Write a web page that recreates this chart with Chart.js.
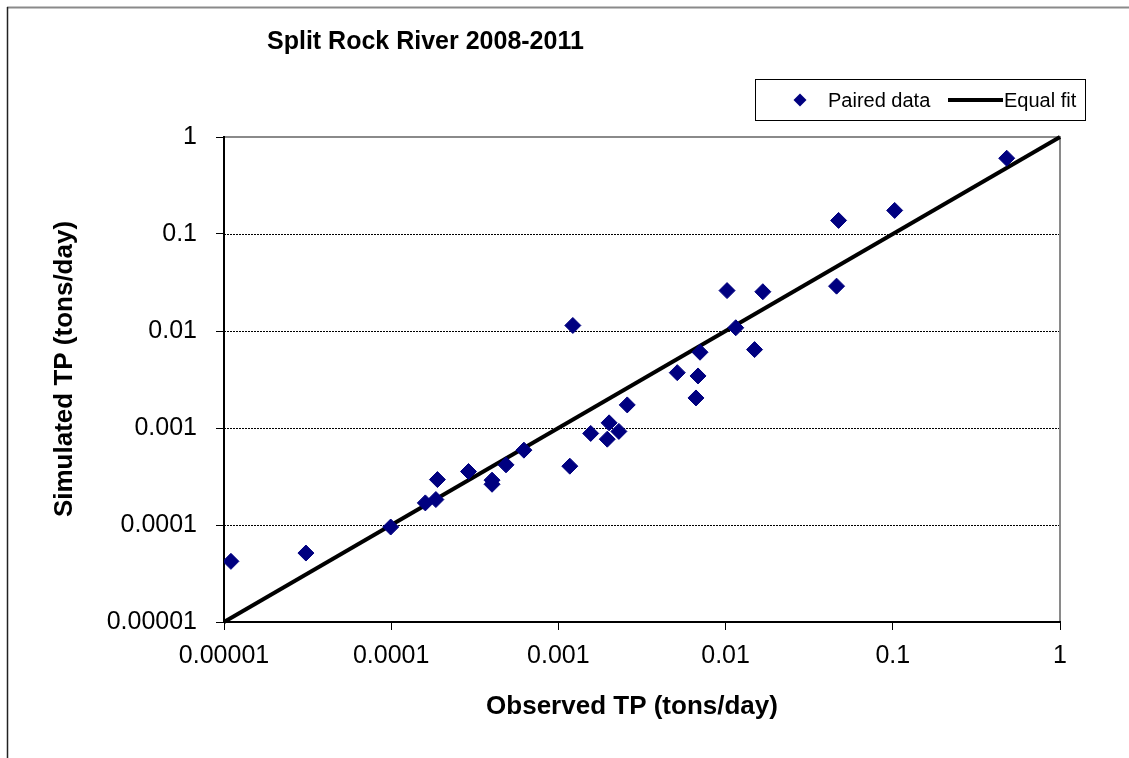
<!DOCTYPE html>
<html>
<head>
<meta charset="utf-8">
<script src="https://cdn.jsdelivr.net/npm/chart.js@4.4.1/dist/chart.umd.min.js"></script>
<style>
  html, body { margin: 0; padding: 0; background: #ffffff; }
  #wrap { position: relative; width: 1129px; height: 758px; }
</style>
</head>
<body>
<div id="wrap"><canvas id="c"></canvas></div>
<script>
// ---- Data ----
const observedTP = [
  0.000011, 0.0000309, 0.0000993, 0.000160, 0.000185, 0.000189, 0.000290, 0.000401,
  0.000401, 0.000486, 0.000622, 0.00122, 0.00117, 0.00156, 0.00196, 0.00201,
  0.00230, 0.00258, 0.00514, 0.00684, 0.00665, 0.00703, 0.0102, 0.0115,
  0.0149, 0.0167, 0.0461, 0.0474, 0.1026, 0.480
];
const simulatedTP = [
  0.0000422, 0.0000514, 0.0000953, 0.000169, 0.000183, 0.000294, 0.000356, 0.000290,
  0.000263, 0.000417, 0.000591, 0.0114, 0.000404, 0.000879, 0.000767, 0.00113,
  0.000922, 0.00173, 0.00372, 0.00344, 0.00204, 0.00604, 0.0261, 0.0108,
  0.00643, 0.0254, 0.0290, 0.138, 0.175, 0.604
];
const equalFitX = [0.00001, 1];
const equalFitY = [0.00001, 1];
const tickValues = [0.00001, 0.0001, 0.001, 0.01, 0.1, 1];
const tickLabels = ['0.00001', '0.0001', '0.001', '0.01', '0.1', '1'];

const chartTitle = 'Split Rock River 2008-2011';
const xTitle = 'Observed TP (tons/day)';
const yTitle = 'Simulated TP (tons/day)';
const seriesNames = ['Paired data', 'Equal fit'];

const FONT = '"Liberation Sans", Arial, Helvetica, sans-serif';
const NAVY = '#000080';

const pairedPoints = observedTP.map((x, i) => ({ x: x, y: simulatedTP[i] }));
const fitPoints = equalFitX.map((x, i) => ({ x: x, y: equalFitY[i] }));

function labelFor(v) {
  for (let i = 0; i < tickValues.length; i++) {
    if (Math.abs(Math.log10(v) - Math.log10(tickValues[i])) < 1e-6) return tickLabels[i];
  }
  return '';
}

const decorPlugin = {
  id: 'decor',
  beforeDraw(chart) {
    const ctx = chart.ctx;
    const ca = chart.chartArea;
    const ys = chart.scales.y;
    ctx.save();
    ctx.fillStyle = '#ffffff';
    ctx.fillRect(0, 0, chart.width, chart.height);
    // outer frame
    ctx.strokeStyle = '#8a8a8a';
    ctx.lineWidth = 2;
    ctx.beginPath();
    ctx.moveTo(7, 7.5);
    ctx.lineTo(chart.width, 7.5);
    ctx.stroke();
    ctx.strokeStyle = '#222222';
    ctx.lineWidth = 1.5;
    ctx.beginPath();
    ctx.moveTo(7.5, 7);
    ctx.lineTo(7.5, chart.height);
    ctx.stroke();
    // dotted gridlines
    ctx.strokeStyle = '#000000';
    ctx.lineWidth = 1;
    ctx.setLineDash([2, 1]);
    tickValues.forEach(v => {
      if (v <= tickValues[0] || v >= tickValues[tickValues.length - 1]) return;
      const py = Math.round(ys.getPixelForValue(v)) + 0.5;
      ctx.beginPath();
      ctx.moveTo(ca.left, py);
      ctx.lineTo(ca.right, py);
      ctx.stroke();
    });
    ctx.setLineDash([]);
    // plot area top/right border
    ctx.strokeStyle = '#8a8a8a';
    ctx.lineWidth = 2;
    ctx.beginPath();
    ctx.moveTo(ca.left, ca.top);
    ctx.lineTo(ca.right, ca.top);
    ctx.lineTo(ca.right, ca.bottom);
    ctx.stroke();
    ctx.restore();
  },
  afterDraw(chart) {
    const ctx = chart.ctx;
    ctx.save();
    ctx.fillStyle = '#000000';
    // chart title
    ctx.font = 'bold 25px ' + FONT;
    ctx.textAlign = 'left';
    ctx.textBaseline = 'alphabetic';
    ctx.fillText(chartTitle, 267, 49);
    // x axis title
    ctx.font = 'bold 26px ' + FONT;
    ctx.textAlign = 'center';
    ctx.fillText(xTitle, 632, 714);
    // y axis title
    ctx.save();
    ctx.translate(72, 369);
    ctx.rotate(-Math.PI / 2);
    ctx.fillText(yTitle, 0, 0);
    ctx.restore();
    // legend
    ctx.strokeStyle = '#000000';
    ctx.lineWidth = 1;
    ctx.strokeRect(755.5, 79.5, 330, 41);
    ctx.fillStyle = NAVY;
    ctx.beginPath();
    ctx.moveTo(800 - 6.5, 100);
    ctx.lineTo(800, 100 - 6.5);
    ctx.lineTo(800 + 6.5, 100);
    ctx.lineTo(800, 100 + 6.5);
    ctx.closePath();
    ctx.fill();
    ctx.fillStyle = '#000000';
    ctx.font = '20px ' + FONT;
    ctx.textAlign = 'left';
    ctx.fillText(seriesNames[0], 828, 107);
    ctx.lineWidth = 4;
    ctx.beginPath();
    ctx.moveTo(948, 100);
    ctx.lineTo(1003, 100);
    ctx.stroke();
    ctx.fillText(seriesNames[1], 1004, 107);
    ctx.restore();
  }
};

new Chart(document.getElementById('c'), {
  type: 'scatter',
  data: {
    datasets: [
      {
        label: seriesNames[0],
        data: pairedPoints,
        pointStyle: 'rectRot',
        pointRadius: 8,
        pointHoverRadius: 8,
        backgroundColor: NAVY,
        borderColor: NAVY,
        borderWidth: 1,
        showLine: false
      },
      {
        label: seriesNames[1],
        data: fitPoints,
        showLine: true,
        borderColor: '#000000',
        borderWidth: 4,
        pointRadius: 0,
        pointHoverRadius: 0,
        clip: false
      }
    ]
  },
  options: {
    responsive: true,
    maintainAspectRatio: false,
    animation: false,
    events: [],
    layout: { padding: { left: 0, right: 69, top: 137, bottom: 0 } },
    plugins: {
      legend: { display: false },
      title: { display: false },
      tooltip: { enabled: false }
    },
    scales: {
      x: {
        type: 'logarithmic',
        min: tickValues[0],
        max: tickValues[tickValues.length - 1],
        afterBuildTicks(scale) { scale.ticks = tickValues.map(v => ({ value: v, major: true })); },
        afterFit(scale) { scale.height = 136; },
        ticks: {
          autoSkip: false,
          maxRotation: 0,
          padding: 11,
          color: '#000000',
          font: { family: FONT, size: 25 },
          callback: (v) => labelFor(v)
        },
        grid: {
          display: true,
          drawOnChartArea: false,
          drawTicks: true,
          tickLength: 8,
          color: '#000000',
          lineWidth: 1
        },
        border: { display: true, color: '#000000', width: 2 }
      },
      y: {
        type: 'logarithmic',
        min: tickValues[0],
        max: tickValues[tickValues.length - 1],
        afterBuildTicks(scale) { scale.ticks = tickValues.map(v => ({ value: v, major: true })); },
        afterFit(scale) { scale.width = 224; },
        ticks: {
          autoSkip: false,
          padding: 19,
          color: '#000000',
          font: { family: FONT, size: 25 },
          callback: (v) => labelFor(v)
        },
        grid: {
          display: true,
          drawOnChartArea: false,
          drawTicks: true,
          tickLength: 8,
          color: '#000000',
          lineWidth: 1
        },
        border: { display: true, color: '#000000', width: 2 }
      }
    }
  },
  plugins: [decorPlugin]
});
</script>
</body>
</html>
